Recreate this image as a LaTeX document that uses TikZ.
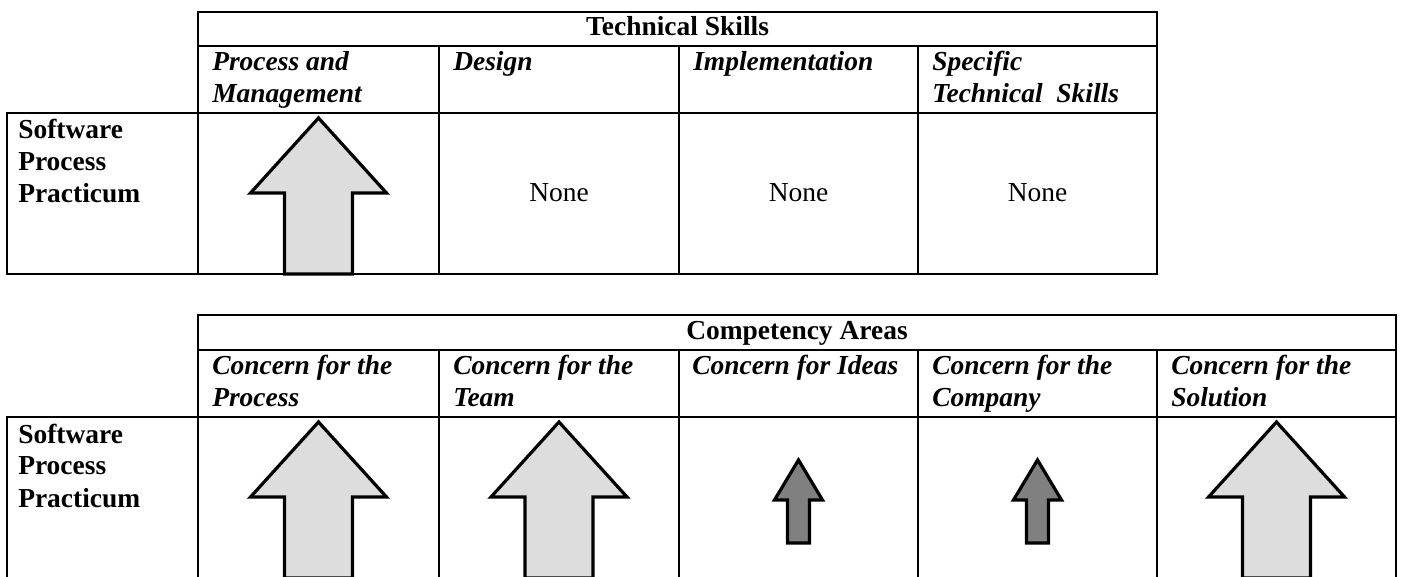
\documentclass[tikz,border=0pt]{standalone}
\usepackage{fontspec}
\setmainfont{Liberation Serif}
\newcommand{\tabfont}{\fontsize{20.6pt}{24pt}\selectfont}
\newcommand{\twoln}[2]{\vtop{\hbox{#1}\hbox{#2}}}
\newcommand{\threeln}[3]{\vtop{\hbox{#1}\hbox{#2}\hbox{#3}}}
\definecolor{lightfill}{HTML}{DDDDDD}
\definecolor{darkfill}{HTML}{808080}
\begin{document}
\begin{tikzpicture}[x=0.75pt,y=-0.75pt,
  grid/.style={line width=1.5pt, line cap=rect},
  hdr/.style={font=\bfseries\tabfont, anchor=base, inner sep=0pt},
  sub/.style={font=\bfseries\itshape\tabfont, anchor=base west, inner sep=0pt},
  lbl/.style={font=\bfseries\tabfont, anchor=base west, inner sep=0pt},
  val/.style={font=\tabfont, anchor=base, inner sep=0pt},
  arrowline/.style={draw=black, line width=2.4pt, line join=miter},
  bigup/.pic={\path[arrowline, fill=lightfill] (0,0) -- (68,75) -- (34,75) -- (34,156) -- (-34,156) -- (-34,75) -- (-68,75) -- cycle;},
  smallup/.pic={\path[arrowline, fill=darkfill] (0,0) -- (24,40) -- (11,40) -- (11,83) -- (-11,83) -- (-11,40) -- (-24,40) -- cycle;}]
\useasboundingbox (0,0) rectangle (1404,577);
\clip (0,0) rectangle (1404,577);

% ---------- top table ----------
\draw[grid] (198,12) rectangle (1157,274);
\draw[grid] (7,113) rectangle (198,274);
\draw[grid] (198,46) -- (1157,46);
\draw[grid] (198,113) -- (1157,113);
\foreach \cx in {439,679,918} \draw[grid] (\cx,46) -- (\cx,274);

\node[hdr] (ts) at (677.5,36) {Technical Skills};
\node[sub] (pm) at (212,71) {\twoln{Process and}{Management}};
\node[sub] (de) at (453,71) {\twoln{Design}{}};
\node[sub] (im) at (693,71) {\twoln{Implementation}{}};
\node[sub] (st) at (932,71) {\twoln{Specific}{Technical\ \ Skills}};
\node[lbl] (spp1) at (18,139) {\threeln{Software}{Process}{Practicum}};
\node[val] (n1) at (559,202) {None};
\node[val] (n2) at (798.5,202) {None};
\node[val] (n3) at (1037.5,202) {None};
\pic at (318.5,118) {bigup};

% ---------- bottom table ----------
\draw[grid] (198,590) -- (198,315) -- (1396,315) -- (1396,590);
\draw[grid] (198,350) -- (1396,350);
\draw[grid] (7,590) -- (7,417) -- (1396,417);
\foreach \cx in {439,679,918,1157} \draw[grid] (\cx,350) -- (\cx,590);

\node[hdr] (ca) at (797,340) {Competency Areas};
\node[sub] (cp) at (212,375) {\twoln{Concern for the}{Process}};
\node[sub] (ct) at (453,375) {\twoln{Concern for the}{Team}};
\node[sub] (ci) at (692,375) {\twoln{Concern for Ideas}{}};
\node[sub] (cc) at (932,375) {\twoln{Concern for the}{Company}};
\node[sub] (cs) at (1171,375) {\twoln{Concern for the}{Solution}};
\node[lbl] (spp2) at (18,443) {\threeln{Software}{Process}{Practicum}};
\pic at (318.5,422) {bigup};
\pic at (559,422) {bigup};
\pic at (798.5,460) {smallup};
\pic at (1037.5,460) {smallup};
\pic at (1276.5,422) {bigup};
\end{tikzpicture}
\end{document}
